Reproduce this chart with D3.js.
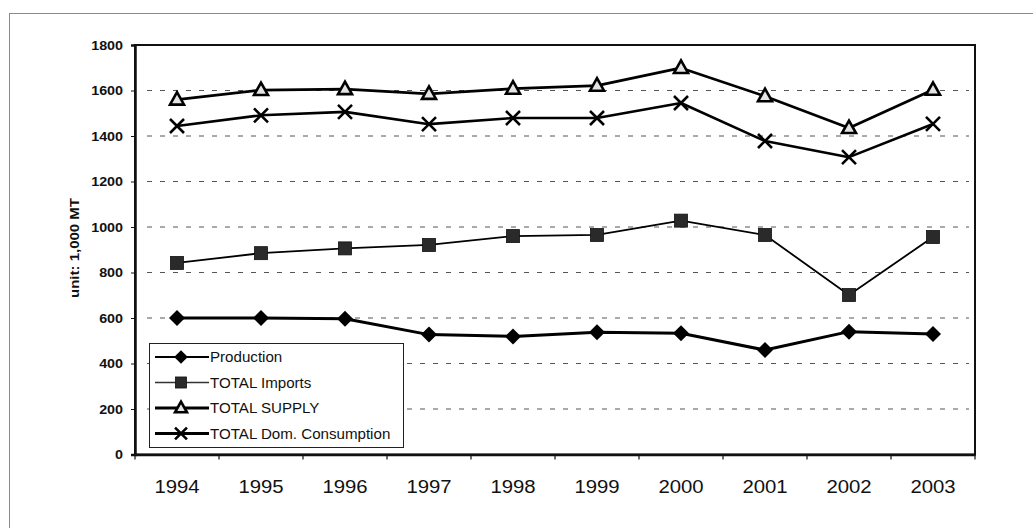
<!DOCTYPE html>
<html>
<head>
<meta charset="utf-8">
<script src="https://cdn.jsdelivr.net/npm/d3@7"></script>
<style>
  html, body { margin: 0; padding: 0; background: #fff; }
  svg { display: block; }
</style>
</head>
<body>
<svg id="chart" width="1033" height="528"></svg>
<script>
// Years on the category axis
const years = ["1994", "1995", "1996", "1997", "1998", "1999", "2000", "2001", "2002", "2003"];

// Series values, unit: 1,000 MT
const production = [600, 600, 597, 527, 519, 537, 533, 459, 540, 530];
const totalImports = [842, 885, 906, 921, 960, 965, 1028, 965, 701, 956];
const totalSupply = [1560, 1602, 1606, 1585, 1608, 1621, 1699, 1575, 1435, 1603];
const domConsumption = [1444, 1491, 1506, 1452, 1479, 1479, 1545, 1378, 1307, 1453];

const yTicks = [0, 200, 400, 600, 800, 1000, 1200, 1400, 1600, 1800];

const seriesNames = ["Production", "TOTAL Imports", "TOTAL SUPPLY", "TOTAL Dom. Consumption"];

const FONT = "Liberation Sans, Arial, sans-serif";
const svg = d3.select("#chart");

// Outer page frame
svg.append("rect")
  .attr("x", 9.5).attr("y", 13.5)
  .attr("width", 1040).attr("height", 540)
  .attr("fill", "none").attr("stroke", "#8a8a8a").attr("stroke-width", 1);

const plot = { left: 135, right: 975, top: 45, bottom: 454.5 };

const x = d3.scaleBand().domain(years).range([plot.left, plot.right]).padding(0);
const y = d3.scaleLinear().domain([0, 1800]).range([plot.bottom, plot.top]);
const cx = d => x(d) + x.bandwidth() / 2;

// Dashed horizontal gridlines
svg.append("g")
  .selectAll("line")
  .data(yTicks.filter(t => t > 0 && t < 1800))
  .join("line")
  .attr("x1", plot.left + 12).attr("x2", plot.right - 6)
  .attr("y1", d => y(d)).attr("y2", d => y(d))
  .attr("stroke", "#555").attr("stroke-width", 1)
  .attr("stroke-dasharray", "5,8");

// Plot area frame
svg.append("rect")
  .attr("x", plot.left).attr("y", plot.top)
  .attr("width", plot.right - plot.left).attr("height", plot.bottom - plot.top)
  .attr("fill", "none").attr("stroke", "#111").attr("stroke-width", 2);

// Y axis
const yAxis = svg.append("g")
  .attr("transform", `translate(${plot.left},0)`)
  .call(d3.axisLeft(y).tickValues(yTicks).tickSize(4).tickPadding(8).tickFormat(d3.format("d")));
yAxis.select(".domain").attr("stroke", "#111").attr("stroke-width", 2.5);
yAxis.selectAll(".tick line").attr("stroke", "#111").attr("stroke-width", 1);
yAxis.selectAll(".tick text")
  .attr("font-family", FONT)
  .attr("font-size", 13).attr("font-weight", "bold").attr("fill", "#111")
  .attr("x", -12 / 1.1)
  .attr("transform", "scale(1.1,1)");

// X axis with ticks at category boundaries
const xAxis = svg.append("g")
  .attr("transform", `translate(0,${plot.bottom})`)
  .call(d3.axisBottom(x).tickSize(0));
xAxis.select(".domain").attr("stroke", "#111").attr("stroke-width", 2.5);
xAxis.selectAll(".tick text")
  .attr("font-family", FONT)
  .attr("font-size", 18).attr("fill", "#111")
  .attr("y", 38.5).attr("dy", 0)
  .attr("transform", "scale(1.13,1)");
xAxis.selectAll(".boundary")
  .data(years.map(d => x(d)).concat([plot.right]))
  .join("line")
  .attr("class", "boundary")
  .attr("x1", d => d).attr("x2", d => d)
  .attr("y1", 0).attr("y2", 5)
  .attr("stroke", "#111").attr("stroke-width", 1.2);

// Y axis title
svg.append("text")
  .attr("transform", `translate(79,248) rotate(-90)`)
  .attr("text-anchor", "middle")
  .attr("font-family", FONT)
  .attr("font-size", 13).attr("font-weight", "bold").attr("fill", "#111")
  .attr("textLength", 100).attr("lengthAdjust", "spacingAndGlyphs")
  .text("unit: 1,000 MT");

// Marker drawing helpers
function drawMarker(g, kind, px, py, k = 1) {
  if (kind === "diamond") {
    g.append("path")
      .attr("d", `M${px},${py - 8 * k}L${px + 8 * k},${py}L${px},${py + 8 * k}L${px - 8 * k},${py}Z`)
      .attr("fill", "#000");
  } else if (kind === "square") {
    const h = 6.5 * k;
    g.append("rect")
      .attr("x", px - h).attr("y", py - h).attr("width", 2 * h).attr("height", 2 * h)
      .attr("fill", "#2a2a2a").attr("stroke", "#111").attr("stroke-width", 0.8);
  } else if (kind === "triangle") {
    g.append("path")
      .attr("d", `M${px},${py - 7.5 * k}L${px + 7 * k},${py + 5 * k}L${px - 7 * k},${py + 5 * k}Z`)
      .attr("fill", "#e4e4e4").attr("stroke", "#000").attr("stroke-width", 2.6)
      .attr("stroke-linejoin", "miter");
  } else if (kind === "cross") {
    const h = 7 * k;
    g.append("path")
      .attr("d", `M${px - h},${py - h}L${px + h},${py + h}M${px + h},${py - h}L${px - h},${py + h}`)
      .attr("stroke", "#000").attr("stroke-width", 2.6).attr("fill", "none");
  }
}

const series = [
  { name: seriesNames[0], values: production, marker: "diamond", width: 3 },
  { name: seriesNames[1], values: totalImports, marker: "square", width: 1.8 },
  { name: seriesNames[2], values: totalSupply, marker: "triangle", width: 2.8 },
  { name: seriesNames[3], values: domConsumption, marker: "cross", width: 2.6 }
];

const line = d3.line().x((d, i) => cx(years[i])).y(d => y(d));

series.forEach(s => {
  const g = svg.append("g");
  g.append("path")
    .datum(s.values)
    .attr("d", line)
    .attr("fill", "none").attr("stroke", "#000").attr("stroke-width", s.width)
    .attr("stroke-linejoin", "round");
  s.values.forEach((v, i) => drawMarker(g, s.marker, cx(years[i]), y(v)));
});

// Legend
const legend = svg.append("g");
legend.append("rect")
  .attr("x", 149.5).attr("y", 343.5).attr("width", 254).attr("height", 104)
  .attr("fill", "#fff").attr("stroke", "#222").attr("stroke-width", 1);

const legendLineWidths = [2, 1.6, 2.8, 2.8];
series.forEach((s, i) => {
  const ly = 357 + i * 25.5;
  const row = legend.append("g");
  row.append("line")
    .attr("x1", 155).attr("x2", 209).attr("y1", ly).attr("y2", ly)
    .attr("stroke", i === 1 ? "#333" : "#000").attr("stroke-width", legendLineWidths[i]);
  drawMarker(row, s.marker, 181, ly, 0.85);
  row.append("text")
    .attr("transform", `translate(210,${ly + 5}) scale(1.08,1)`)
    .attr("font-family", FONT)
    .attr("font-size", 14).attr("fill", "#111")
    .text(s.name);
});
</script>
</body>
</html>
